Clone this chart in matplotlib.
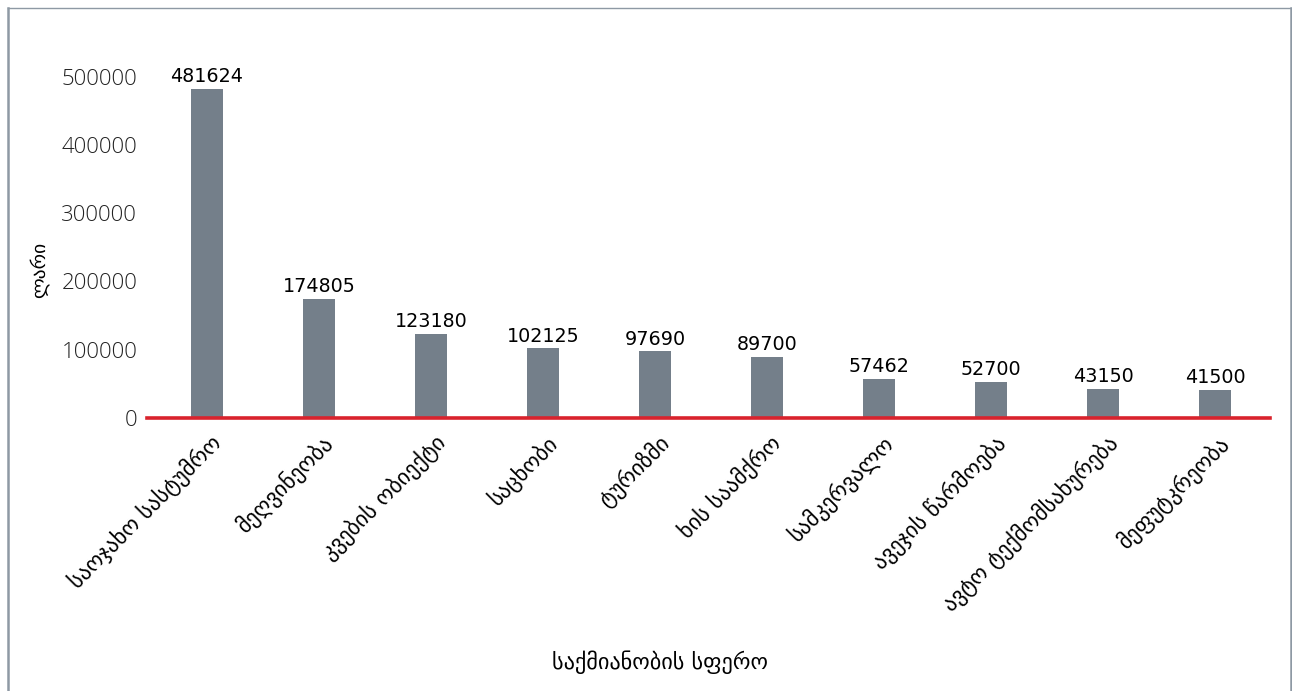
import matplotlib
matplotlib.use("Agg")
import matplotlib.pyplot as plt
from matplotlib.lines import Line2D
import matplotlib.transforms as mtransforms

categories = ["საოჯახო სასტუმრო", "მეღვინეობა", "კვების ობიექტი", "საცხობი", "ტურიზმი",
              "ხის საამქრო", "სამკერვალო", "ავეჯის წარმოება", "ავტო ტექმომსახურება", "მეფუტკრეობა"]
values = [481624, 174805, 123180, 102125, 97690, 89700, 57462, 52700, 43150, 41500]
yticks = [0, 100000, 200000, 300000, 400000, 500000]
x_title = "საქმიანობის სფერო"
y_title = "ლარი"

W, H = 1292, 691
fig = plt.figure(figsize=(W / 100, H / 100), dpi=100)
fig.patch.set_facecolor("white")

# figure frame
border = "#8E99A4"
fig.add_artist(Line2D([7.5 / W, 7.5 / W], [0, 1 - 8 / H], color=border, lw=1.8, transform=fig.transFigure))
fig.add_artist(Line2D([7.5 / W, 1291 / W], [1 - 8 / H, 1 - 8 / H], color=border, lw=1.0, transform=fig.transFigure))
fig.add_artist(Line2D([1291 / W, 1291 / W], [0, 1 - 8 / H], color=border, lw=1.8, transform=fig.transFigure))

ax = fig.add_axes([147 / W, 1 - 418 / H, (1270 - 147) / W, (418 - 63) / H])
x = list(range(len(categories)))
ax.bar(x, values, width=0.28, color="#747F8A", zorder=2)
ax.set_xlim(-0.535, 9.49)
ax.set_ylim(0, 520000)

for xi, v in zip(x, values):
    ax.text(xi, v + 4000, str(v), ha="center", va="bottom", fontsize=13.8,
            family="DejaVu Sans", color="black")

for s in ["top", "right", "left"]:
    ax.spines[s].set_visible(False)
ax.spines["bottom"].set_color("#D9232D")
ax.spines["bottom"].set_linewidth(2.6)
ax.spines["bottom"].set_zorder(3)

ax.set_yticks(yticks)
ax.set_yticklabels([str(t) for t in yticks], fontsize=16, family="Open Sans", fontweight="light", color="#222222")
ax.tick_params(axis="y", length=0, pad=7)
ax.tick_params(axis="x", length=0, pad=4)
ax.set_xticks(x)
ax.set_xticklabels(categories, rotation=45, ha="right", va="center", rotation_mode="anchor",
                   fontsize=16, family="DejaVu Sans")
offset = mtransforms.ScaledTranslation(11 / 100, -16 / 100, fig.dpi_scale_trans)
for lbl in ax.get_xticklabels():
    lbl.set_transform(lbl.get_transform() + offset)

fig.text(660 / W, 1 - 662 / H, x_title, ha="center", va="center", fontsize=16, family="DejaVu Sans")
fig.text(40 / W, 1 - 270 / H, y_title, ha="center", va="center", rotation=90, fontsize=14, family="DejaVu Sans")

fig.savefig("out.png", dpi=100, facecolor="white")
